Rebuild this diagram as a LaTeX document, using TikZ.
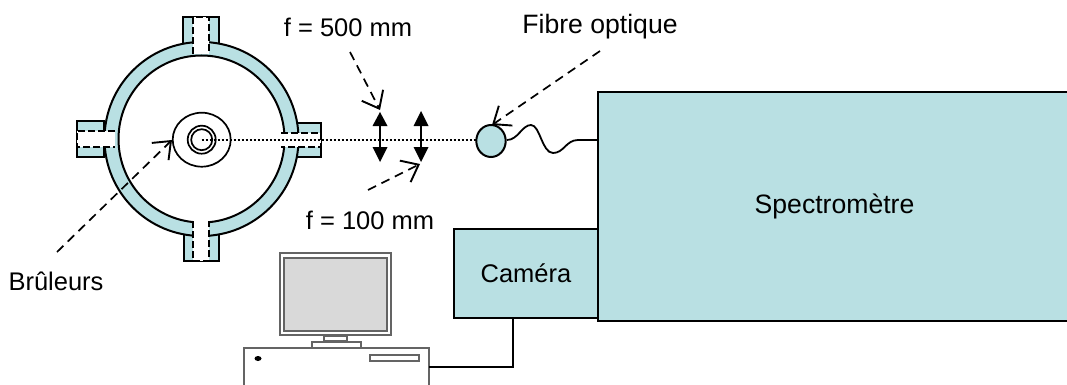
\documentclass[tikz,border=0pt]{standalone}
\usepackage{fontspec}
\setmainfont{Liberation Sans}
\usetikzlibrary{arrows.meta}
\definecolor{teal1}{RGB}{185,224,227}
\definecolor{gline}{RGB}{100,100,100}
\tikzset{
  body/.style={draw=black,line width=2,fill=teal1},
  ringline/.style={draw=black,line width=2},
  slot/.style={draw=black,line width=1.9,dash pattern=on 7 off 3},
  thin line/.style={draw=black,line width=1.8},
  lead/.style={draw=black,line width=1.7,dash pattern=on 9 off 6,-{Straight Barb[length=15,width=24,line width=1.9]}},
  ray/.style={draw=black,line width=1.9,dash pattern=on 2 off 2},
  lensarrow/.style={draw=black,line width=1.8},
  tipfill/.style={fill=black},
  pc/.style={draw=gline,line width=1.9,fill=white},
  label/.style={font=\fontsize{25.5}{30}\selectfont,inner sep=0,text=black},
  biglabel/.style={font=\fontsize{26.6}{30}\selectfont,inner sep=0,text=black}
}
\begin{document}
\begin{tikzpicture}[x=1pt,y=-1pt]
\useasboundingbox (0,0) rectangle (1067,385);
% ports
\path[body] (183,17) rectangle (219,44);
\path[body] (184,234) rectangle (219,261);
\path[body] (77,121) rectangle (104,157);
\path[body] (293,123) rectangle (321,157);
% ring
\path[body] (201.5,139) circle[radius=97];
\path[ringline,fill=white] (201.5,139) ellipse[x radius=83,y radius=83.5];
% openings
\path[fill=white] (193,17) rectangle (209,54);
\path[fill=white] (193,221) rectangle (209,261);
\path[fill=white] (77,131) rectangle (115,147);
\path[fill=white] (281,133) rectangle (321,147);
\draw[slot] (193,54) -- (193,17) -- (209,17) -- (209,54);
\draw[slot] (193,221) -- (193,261) -- (209,261) -- (209,221);
\draw[slot] (115,131) -- (77,131) -- (77,147) -- (115,147);
\draw[slot] (281,133) -- (321,133) -- (321,147) -- (281,147);
% burner
\path[ringline,line width=1.7] (201.7,139.7) ellipse[x radius=29,y radius=27];
\path[ringline,line width=1.7] (201.7,139.7) circle[radius=14];
\path[ringline,line width=1.7] (201.7,139.7) circle[radius=10.5];
% spectrometer etc
\node[body,label,draw=black,fill=teal1,minimum width=144,minimum height=89,anchor=north west] (cam) at (453,228) {Caméra};
\node[body,biglabel,draw=black,fill=teal1,minimum width=473,minimum height=229,anchor=north west] (spec) at (597,91) {Spectromètre};
% fibre
\path[body] (491,141) ellipse[x radius=14.7,y radius=16];
\coordinate (rayA) at (201.7,139.7);
\coordinate (rayB) at (476,139.7);
\draw[ray] (rayA) -- (rayB);
\draw[thin line] (507,140) .. controls (518,140) and (522,125) .. (531,125)
  .. controls (540,125) and (542,153) .. (553,153)
  .. controls (564,153) and (566,140) .. (578,140) -- (597,140);
% lenses
\draw[lensarrow] (380,120) -- (380,155);
\fill[tipfill] (380,112) -- (387.5,126) -- (372.5,126) -- cycle;
\fill[tipfill] (380,162) -- (387.5,147) -- (372.5,147) -- cycle;
\draw[lensarrow] (421,120) -- (421,155);
\fill[tipfill] (421,111) -- (428.5,126) -- (413.5,126) -- cycle;
\fill[tipfill] (421,162) -- (428.5,147) -- (413.5,147) -- cycle;
% leads
\coordinate (a1) at (350,52); \coordinate (a1e) at (380,110);
\coordinate (a2) at (368,190); \coordinate (a2e) at (420,164);
\coordinate (a3) at (600,51); \coordinate (a3e) at (492,125);
\coordinate (a4) at (57,252); \coordinate (a4e) at (172,140);
\draw[lead] (a1) -- (a1e);
\draw[lead] (a2) -- (a2e);
\draw[lead] (a3) -- (a3e);
\draw[lead] (a4) -- (a4e);
% labels
\node[label] (l1) at (348,27) {f = 500 mm};
\node[label] (l2) at (370,220) {f = 100 mm};
\node[biglabel] (l3) at (600,27) {Fibre optique};
\node[label] (l4) at (56,281) {Brûleurs};
% computer
\path[pc] (280,253) rectangle (391,335);
\path[pc,fill=gray!30] (284,258) rectangle (387,331);
\path[pc] (324,336) rectangle (347,341);
\path[pc] (312,342) rectangle (361,348);
\path[pc] (244,390) -- (244,348) -- (429,348) -- (429,390);
\path[fill=black] (258,358.5) ellipse[x radius=3.5,y radius=2.5];
\path[pc] (370,355) rectangle (419,361);
\coordinate (pcr) at (429,367);
\coordinate (camb) at (513,317);
\draw[thin line] (pcr) -| (camb);
\end{tikzpicture}
\end{document}
